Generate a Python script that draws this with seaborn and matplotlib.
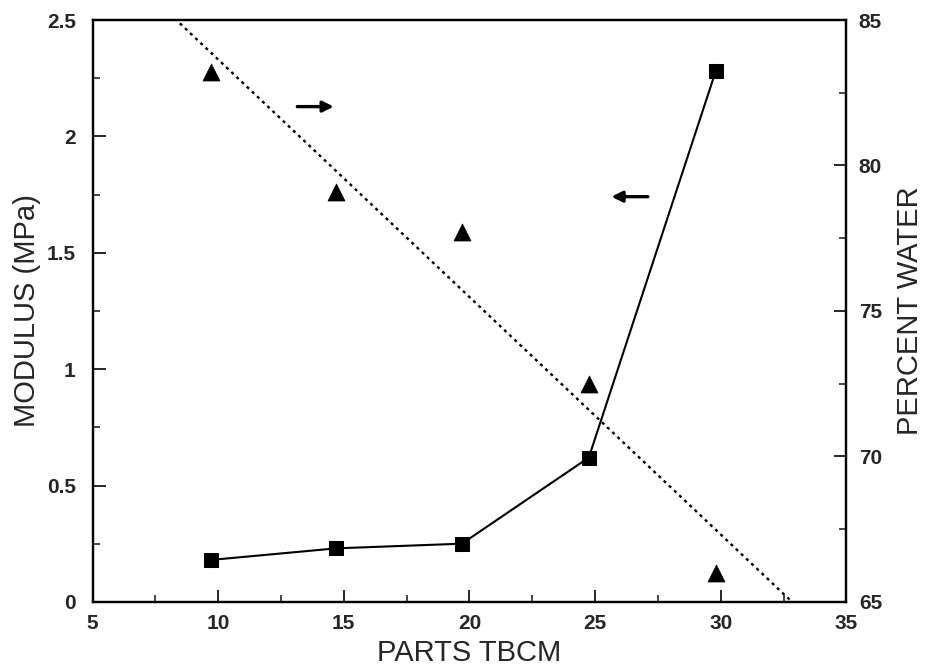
import matplotlib
matplotlib.use("Agg")
import matplotlib.pyplot as plt
import seaborn as sns
from matplotlib.ticker import MultipleLocator

# ---- data ----
parts = [9.7, 14.7, 19.7, 24.75, 29.8]          # PARTS TBCM
modulus = [0.18, 0.23, 0.25, 0.62, 2.28]        # MODULUS (MPa), left axis
water = [83.2, 79.1, 77.7, 72.5, 66.0]          # PERCENT WATER, right axis

x_ticks = [5, 10, 15, 20, 25, 30, 35]
x_tick_labels = ["5", "10", "15", "20", "25", "30", "35"]
left_ticks = [0, 0.5, 1, 1.5, 2, 2.5]
left_tick_labels = ["0", "0.5", "1", "1.5", "2", "2.5"]
right_ticks = [65, 70, 75, 80, 85]
right_tick_labels = ["65", "70", "75", "80", "85"]

sns.set_style("ticks")
plt.rcParams["font.family"] = ["Liberation Sans", "DejaVu Sans"]

fig = plt.figure(figsize=(9.25, 6.68), dpi=100)
ax = fig.add_axes([0.1, 0.099, 0.815, 0.871])
ax.set_xlim(5, 35)
ax.set_ylim(0, 2.5)
ax2 = ax.twinx()
ax2.set_ylim(65, 85)

# modulus: squares joined by a solid line
sns.lineplot(x=parts, y=modulus, ax=ax, color="black", marker="s",
             markersize=10, markeredgecolor="black", linewidth=1.5)

# percent water: triangles + dotted regression line
sns.scatterplot(x=parts, y=water, ax=ax2, marker="^", s=150,
                color="black", edgecolor="black", linewidth=0.5, zorder=3)
sns.regplot(x=parts, y=water, ax=ax2, scatter=False, ci=None, truncate=False,
            line_kws=dict(color="black", linewidth=1.7, linestyle=(0, (1.3, 1.7))))

ax.set_xlim(5, 35)
ax.set_ylim(0, 2.5)
ax2.set_ylim(65, 85)

# arrows indicating which axis each series uses
ax.annotate("", xy=(14.6, 2.128), xytext=(13.15, 2.128),
            arrowprops=dict(arrowstyle="-|>", color="black", lw=2.4,
                            mutation_scale=16, shrinkA=0, shrinkB=0))
ax.annotate("", xy=(25.65, 1.741), xytext=(27.1, 1.741),
            arrowprops=dict(arrowstyle="-|>", color="black", lw=2.4,
                            mutation_scale=16, shrinkA=0, shrinkB=0))

# ticks
ax.set_xticks(x_ticks, labels=x_tick_labels, fontweight="bold")
ax.set_yticks(left_ticks, labels=left_tick_labels, fontweight="bold")
ax2.set_yticks(right_ticks, labels=right_tick_labels, fontweight="bold")
ax.xaxis.set_minor_locator(MultipleLocator(2.5))
ax.yaxis.set_minor_locator(MultipleLocator(0.25))
ax2.yaxis.set_minor_locator(MultipleLocator(2.5))

ax.tick_params(axis="x", which="major", direction="in", length=9, width=1.4,
               labelsize=15, pad=9, top=False)
ax.tick_params(axis="y", which="major", direction="in", length=9, width=1.4,
               labelsize=15, pad=12, right=False)
ax.tick_params(which="minor", direction="in", length=5, width=1.2,
               top=False, right=False)
ax2.tick_params(which="major", direction="in", length=9, width=1.4,
                labelsize=15, pad=9)
ax2.tick_params(which="minor", direction="in", length=5, width=1.2)

for a in (ax, ax2):
    for s in a.spines.values():
        s.set_linewidth(1.6)
        s.set_color("black")

ax.set_xlabel("PARTS TBCM", fontsize=21, labelpad=4)
ax.set_ylabel("MODULUS (MPa)", fontsize=21, labelpad=4)
ax2.set_ylabel("PERCENT WATER", fontsize=21, labelpad=10)

fig.savefig("out.png", dpi=100, facecolor="white")
